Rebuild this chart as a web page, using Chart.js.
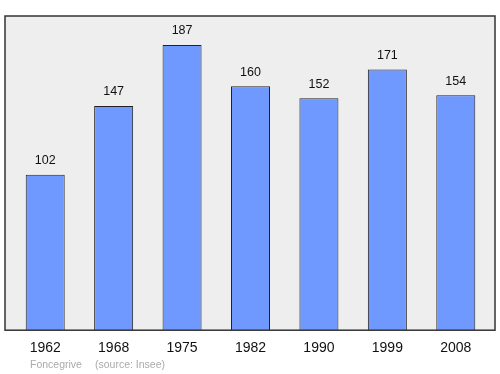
<!DOCTYPE html>
<html>
<head>
<meta charset="utf-8">
<script src="https://cdn.jsdelivr.net/npm/chart.js@4"></script>
<style>
  html, body { margin: 0; padding: 0; background: #ffffff; }
  #wrap { width: 500px; height: 374px; }
</style>
</head>
<body>
<div id="wrap"><canvas id="chart-1"></canvas></div>
<script>
const years = ["1962", "1968", "1975", "1982", "1990", "1999", "2008"];
const population = [102, 147, 187, 160, 152, 171, 154];
const footerCommune = "Foncegrive";
const footerSource = "(source: Insee)";

const frame = {
  id: "frame",
  beforeDraw(chart) {
    const { ctx, chartArea } = chart;
    ctx.save();
    ctx.fillStyle = "#eeeeee";
    ctx.fillRect(5, chartArea.top, 490, chartArea.bottom - chartArea.top);
    ctx.restore();
  },
  afterDatasetsDraw(chart) {
    const { ctx, chartArea } = chart;
    ctx.save();
    ctx.strokeStyle = "#333333";
    ctx.lineWidth = 1.5;
    ctx.strokeRect(5, chartArea.top, 490, chartArea.bottom - chartArea.top);

    // value labels above bars
    const meta = chart.getDatasetMeta(0);
    ctx.fillStyle = "#111111";
    ctx.font = "12.5px 'Liberation Sans', Arial, sans-serif";
    ctx.textAlign = "center";
    ctx.textBaseline = "middle";
    meta.data.forEach((bar, i) => {
      ctx.fillText(String(population[i]), bar.x, bar.y - 14);
    });

    // footer
    ctx.fillStyle = "#aaaaaa";
    ctx.font = "10.5px 'Liberation Sans', Arial, sans-serif";
    ctx.textAlign = "left";
    ctx.fillText(footerCommune, 30, 365);
    ctx.fillText(footerSource, 95, 365);
    ctx.restore();
  }
};

const ctx1 = document.getElementById("chart-1");

const mychart = new Chart(ctx1, {
  type: "bar",
  data: {
    labels: years,
    datasets: [
      {
        label: "Population",
        data: population,
        backgroundColor: "#7099ff",
        borderColor: "#222222",
        borderWidth: 1,
        borderSkipped: "bottom",
        barPercentage: 0.57,
        categoryPercentage: 1,
      },
    ],
  },
  options: {
    responsive: true,
    maintainAspectRatio: false,
    animation: false,
    layout: { padding: { left: 11, right: 10, top: 16, bottom: 7 } },
    plugins: {
      legend: { display: false },
      tooltip: { enabled: false },
    },
    scales: {
      x: {
        grid: { display: false, drawTicks: false },
        border: { display: false },
        ticks: {
          color: "#111111",
          padding: 10,
          maxRotation: 0,
          font: { size: 14, family: "'Liberation Sans', Arial, sans-serif" },
        },
      },
      y: {
        display: false,
        min: 0,
        max: 206,
      },
    },
  },
  plugins: [frame],
});
</script>
</body>
</html>
